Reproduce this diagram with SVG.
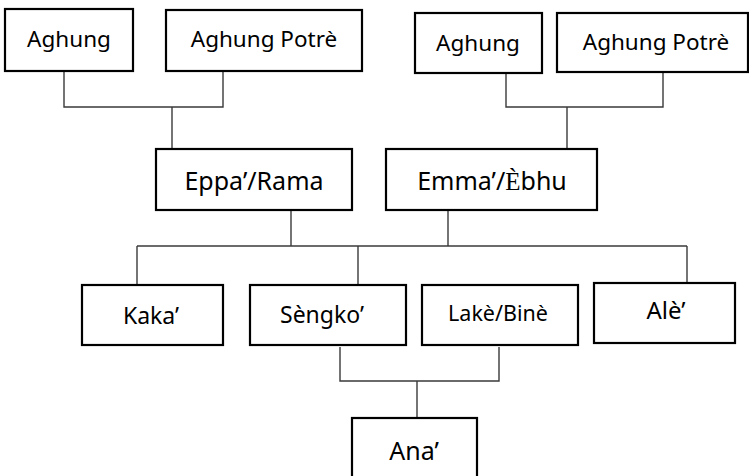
<svg xmlns="http://www.w3.org/2000/svg" width="749" height="476" viewBox="0 0 749 476">
<style>
.box{fill:#fff;stroke:#000;stroke-width:2.2}
.lbl{font-family:"Noto Sans","Open Sans",sans-serif;fill:#000;text-anchor:middle}
.ser{font-family:"Liberation Serif",serif}
.con{fill:none;stroke:#3a3a3a;stroke-width:1.4}
</style>
<rect width="749" height="476" fill="#fff"/>
<g id="connectors">
<polyline class="con" points="64,71 64,107 223,107 223,71"/>
<line class="con" x1="172" y1="107" x2="172" y2="149"/>
<polyline class="con" points="506,73 506,107 663,107 663,72"/>
<line class="con" x1="567" y1="107" x2="567" y2="149"/>
<line class="con" x1="291" y1="210" x2="291" y2="246"/>
<line class="con" x1="448" y1="210" x2="448" y2="246"/>
<line class="con" x1="137" y1="246" x2="687" y2="246"/>
<line class="con" x1="137" y1="246" x2="137" y2="285"/>
<line class="con" x1="358" y1="246" x2="358" y2="288"/>
<line class="con" x1="687" y1="246" x2="687" y2="283"/>
<polyline class="con" points="340,347 340,381 499,381 499,347"/>
<line class="con" x1="417" y1="381" x2="417" y2="418"/>
</g>
<g id="aghung1"><rect class="box" x="5" y="9" width="128" height="62"/><text class="lbl" x="69" y="47" font-size="22.5">Aghung</text></g>
<g id="potre1"><rect class="box" x="166" y="10" width="196" height="61"/><text class="lbl" x="264" y="47" font-size="22.5">Aghung Potrè</text></g>
<g id="aghung2"><rect class="box" x="415" y="13" width="127" height="60"/><text class="lbl" x="478" y="51" font-size="22.5">Aghung</text></g>
<g id="potre2"><rect class="box" x="557" y="13" width="191" height="59"/><text class="lbl" x="656" y="50" font-size="22.5">Aghung Potrè</text></g>
<g id="eppa"><rect class="box" x="156" y="149" width="196" height="61"/><text class="lbl" x="254" y="190" font-size="25">Eppa’/Rama</text></g>
<g id="emma"><rect class="box" x="386" y="149" width="211" height="61"/><text class="lbl" x="492" y="190" font-size="25">Emma’/<tspan class="ser">È</tspan>bhu</text></g>
<g id="kaka"><rect class="box" x="82" y="285" width="141" height="60"/><text class="lbl" x="151" y="324" font-size="23">Kaka’</text></g>
<g id="sengko"><rect class="box" x="250" y="285" width="156" height="60"/><text class="lbl" x="322" y="323" font-size="23">Sèngko’</text></g>
<g id="lake"><rect class="box" x="422" y="285" width="156" height="60"/><text class="lbl" x="498" y="321" font-size="21.5">Lakè/Binè</text></g>
<g id="ale"><rect class="box" x="594" y="283" width="141" height="60"/><text class="lbl" x="666" y="319" font-size="24">Alè’</text></g>
<g id="ana"><rect class="box" x="352" y="418" width="125" height="62"/><text class="lbl" x="414" y="460" font-size="25">Ana’</text></g>
</svg>
